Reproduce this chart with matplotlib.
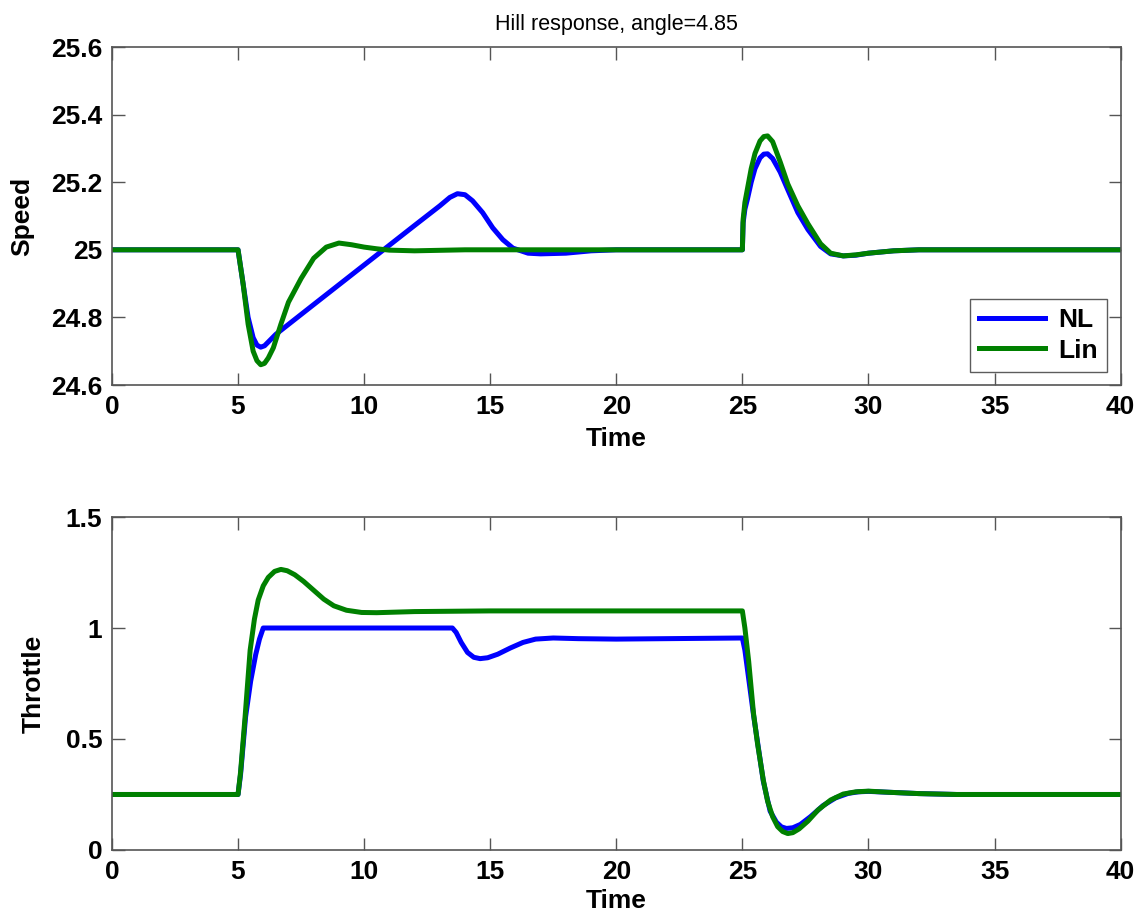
import numpy as np
import matplotlib.pyplot as plt

# --- datos ---
# Velocidad, modelo no lineal
t_speed_nl = [0, 5.0, 5.2, 5.4, 5.6, 5.75, 5.9, 6.05, 6.5, 8.0, 10.0, 12.0, 13.0, 13.4, 13.7,
              14.0, 14.3, 14.7, 15.1, 15.5, 15.9, 16.5, 17.0, 18.0, 19.0, 20.0,
              25.0, 25.03, 25.1, 25.2, 25.35, 25.5, 25.7, 25.85, 26.0, 26.2, 26.5, 26.8, 27.2, 27.6, 28.1,
              28.5, 29.0, 29.5, 30.0, 31.0, 32.0, 40.0]
v_speed_nl = [25.0, 25.0, 24.90, 24.80, 24.74, 24.718, 24.712, 24.716, 24.75, 24.838, 24.955, 25.072, 25.13, 25.155, 25.166,
              25.163, 25.145, 25.11, 25.065, 25.03, 25.005, 24.99, 24.988, 24.99, 24.997, 25.0,
              25.0, 25.08, 25.12, 25.15, 25.2, 25.24, 25.272, 25.283, 25.284, 25.27, 25.23, 25.178, 25.11, 25.06, 25.01,
              24.988, 24.982, 24.984, 24.99, 24.997, 25.0, 25.0]

# Velocidad, modelo lineal
t_speed_lin = [0, 5.0, 5.2, 5.4, 5.6, 5.75, 5.9, 6.05, 6.2, 6.4, 6.7, 7.0, 7.5, 8.0, 8.5, 9.0,
               9.5, 10.0, 10.5, 11.0, 12.0, 14.0,
               25.0, 25.03, 25.1, 25.2, 25.35, 25.5, 25.7, 25.85, 26.0, 26.2, 26.5, 26.8, 27.2, 27.6, 28.1,
               28.5, 29.0, 29.5, 30.0, 31.0, 32.0, 40.0]
v_speed_lin = [25.0, 25.0, 24.90, 24.78, 24.70, 24.672, 24.66, 24.664, 24.68, 24.71, 24.78, 24.845, 24.915, 24.975, 25.008, 25.02,
               25.015, 25.008, 25.003, 24.999, 24.997, 25.0,
               25.0, 25.09, 25.14, 25.18, 25.24, 25.285, 25.322, 25.335, 25.337, 25.32, 25.26, 25.195, 25.13, 25.077, 25.018,
               24.99, 24.982, 24.985, 24.99, 24.997, 25.0, 25.0]

# Acelerador, modelo no lineal
t_thr_nl = [0, 5.0, 5.1, 5.3, 5.5, 5.7, 5.85, 6.0, 13.5, 13.65, 13.85, 14.1, 14.35, 14.6, 14.9,
            15.3, 15.8, 16.3, 16.8, 17.5, 18.5, 20.0,
            25.0, 25.1, 25.44, 25.83, 26.1, 26.35, 26.55, 26.75, 27.0, 27.3, 27.7, 28.2, 28.7,
            29.2, 29.6, 30.0, 30.8, 32.0, 33.5, 40.0]
v_thr_nl = [0.25, 0.25, 0.34, 0.60, 0.76, 0.88, 0.95, 1.0, 1.0, 0.98, 0.935, 0.89, 0.868, 0.862, 0.866,
            0.882, 0.91, 0.935, 0.95, 0.955, 0.952, 0.95,
            0.955, 0.90, 0.61, 0.31, 0.175, 0.125, 0.104, 0.097, 0.1, 0.115, 0.15, 0.2, 0.235,
            0.255, 0.262, 0.264, 0.26, 0.254, 0.25, 0.25]

# Acelerador, modelo lineal
t_thr_lin = [0, 5.0, 5.1, 5.28, 5.48, 5.65, 5.8, 6.0, 6.2, 6.45, 6.7, 6.95, 7.25, 7.6, 8.0, 8.4, 8.8,
             9.3, 9.9, 10.5, 12.0, 15.0,
             25.0, 25.1, 25.25, 25.44, 25.6, 25.83, 26.0, 26.2, 26.4, 26.6, 26.8, 27.0, 27.25, 27.6,
             28.0, 28.5, 29.0, 29.5, 30.0, 30.8, 32.0, 33.5, 40.0]
v_thr_lin = [0.25, 0.25, 0.35, 0.60, 0.90, 1.04, 1.126, 1.19, 1.228, 1.255, 1.264, 1.258, 1.24, 1.21, 1.17, 1.13, 1.1,
             1.08, 1.07, 1.069, 1.074, 1.077,
             1.077, 1.0, 0.85, 0.617, 0.48, 0.315, 0.22, 0.15, 0.105, 0.083, 0.074, 0.078, 0.095, 0.13,
             0.18, 0.225, 0.252, 0.262, 0.265, 0.26, 0.254, 0.25, 0.25]

plt.rcParams['font.family'] = ['Liberation Sans', 'DejaVu Sans']
azul = (0, 0, 1)
verde = (0, 0.5, 0)
gris = '#555555'

fig = plt.figure(figsize=(11.47, 9.18), dpi=100)
ax1 = fig.add_axes([0.0976, 0.5806, 0.8794, 0.3682])
ax2 = fig.add_axes([0.0976, 0.0741, 0.8794, 0.3627])

def estilo(ax):
    for s in ax.spines.values():
        s.set_color(gris)
        s.set_linewidth(1.2)
    ax.tick_params(direction='in', length=9, width=1.0, color=gris,
                   top=True, right=True, labelsize=19, pad=7)
    for lab in ax.get_xticklabels() + ax.get_yticklabels():
        lab.set_fontweight('bold')

# Grafica superior: velocidad
ax1.plot(t_speed_nl, v_speed_nl, color=azul, lw=3.6, label='NL')
ax1.plot(t_speed_lin, v_speed_lin, color=verde, lw=3.6, label='Lin')
ax1.set_xlim(0, 40)
ax1.set_ylim(24.6, 25.6)
ax1.set_xticks(np.arange(0, 41, 5))
ax1.set_yticks([24.6, 24.8, 25.0, 25.2, 25.4, 25.6])
ax1.set_yticklabels(['24.6', '24.8', '25', '25.2', '25.4', '25.6'])
ax1.set_xlabel('Time', fontsize=19, fontweight='bold', labelpad=6)
ax1.set_ylabel('Speed', fontsize=19, fontweight='bold', labelpad=12)
ax1.set_title('Hill response, angle=4.85', fontsize=15.5, pad=12)
estilo(ax1)
leg = ax1.legend(loc='lower right', prop={'weight': 'bold', 'size': 19},
                 frameon=True, fancybox=False, handlelength=2.5, borderaxespad=0.5,
                 labelspacing=0.25, handletextpad=0.5, borderpad=0.35)
leg.get_frame().set_edgecolor('#333333')
leg.get_frame().set_linewidth(1.0)

# Grafica inferior: acelerador
ax2.plot(t_thr_nl, v_thr_nl, color=azul, lw=3.6)
ax2.plot(t_thr_lin, v_thr_lin, color=verde, lw=3.6)
ax2.set_xlim(0, 40)
ax2.set_ylim(0, 1.5)
ax2.set_xticks(np.arange(0, 41, 5))
ax2.set_yticks([0, 0.5, 1.0, 1.5])
ax2.set_yticklabels(['0', '0.5', '1', '1.5'])
ax2.set_xlabel('Time', fontsize=19, fontweight='bold', labelpad=4)
ax2.set_ylabel('Throttle', fontsize=19, fontweight='bold', labelpad=14)
estilo(ax2)

fig.savefig('out.png', dpi=100)
